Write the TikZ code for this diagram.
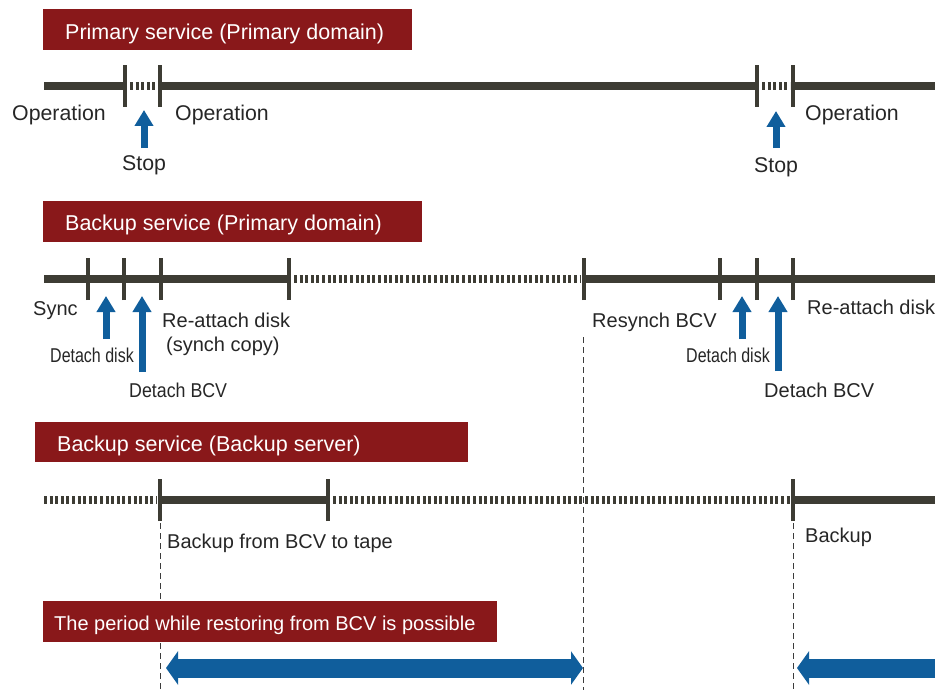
\documentclass[tikz,border=0pt]{standalone}
\usepackage{fontspec}
\setmainfont{Liberation Sans}
\usepackage{graphicx}
\usetikzlibrary{arrows.meta}
\definecolor{boxred}{RGB}{137,24,26}
\definecolor{tlgray}{RGB}{61,60,52}
\definecolor{arrblue}{RGB}{16,94,156}
\definecolor{txtgray}{RGB}{38,38,38}
\definecolor{dashgray}{RGB}{60,60,60}
\tikzset{
  tlsolid/.style={draw=tlgray, line width=7.5pt},
  tldot/.style={draw=tlgray, line width=7.5pt, dash pattern=on 3pt off 2.6pt},
  tltick/.style={draw=tlgray, line width=4pt},
  redbox/.style={fill=boxred, draw=none, inner sep=0pt, anchor=north west},
  titletxt/.style={text=white, inner sep=0pt, anchor=base west, font=\fontsize{21.5}{24}\selectfont},
  smalltitle/.style={text=white, inner sep=0pt, anchor=base west, font=\fontsize{20}{23}\selectfont},
  lbl/.style={text=txtgray, inner sep=0pt, anchor=base west, font=\fontsize{20}{23}\selectfont},
  lblbig/.style={text=txtgray, inner sep=0pt, anchor=base west, font=\fontsize{21.3}{24}\selectfont},
  uparrow/.style={draw=arrblue, line width=7pt, -{Triangle[width=18pt,length=16pt]}},
  bigarrow/.style={draw=arrblue, line width=19pt},
  guide/.style={draw=dashgray, line width=1pt, dash pattern=on 6pt off 4pt},
}
\begin{document}
\begin{tikzpicture}[x=1pt,y=-1pt]
\useasboundingbox (0,0) rectangle (942,690);

% ---------- Row 1: Primary service ----------
\node[redbox, minimum width=369pt, minimum height=41pt] (t1) at (43,9) {};
\node[titletxt] (t1txt) at (65,39.5) {Primary service (Primary domain)};

\coordinate (a0) at (44,86);
\coordinate (a1) at (125,86);
\coordinate (a2) at (160,86);
\coordinate (a3) at (757,86);
\coordinate (a4) at (793,86);
\coordinate (a5) at (935,86);
\coordinate (a1d) at (130,86); \coordinate (a2d) at (157,86);
\coordinate (a3d) at (762,86); \coordinate (a4d) at (790,86);
\draw[tlsolid] (a0) -- (a1);
\draw[tldot] (a1d) -- (a2d);
\draw[tlsolid] (a2) -- (a3);
\draw[tldot] (a3d) -- (a4d);
\draw[tlsolid] (a4) -- (a5);
\foreach \p in {a1,a2,a3,a4}{\draw[tltick] ([yshift=-21pt]\p) -- ([yshift=21pt]\p);}

\node[lblbig] (op1) at (12,121) {Operation};
\node[lblbig] (op2) at (175,121) {Operation};
\node[lblbig] (op3) at (805,121) {Operation};
\coordinate (s1b) at (144,148); \coordinate (s1t) at (144,110);
\coordinate (s2b) at (776,148); \coordinate (s2t) at (776,111);
\draw[uparrow] (s1b) -- (s1t);
\draw[uparrow] (s2b) -- (s2t);
\node[lblbig] (stop1) at (122,171) {Stop};
\node[lblbig] (stop2) at (754,172) {Stop};

% ---------- Row 2: Backup service (Primary domain) ----------
\node[redbox, minimum width=379pt, minimum height=41pt] (t2) at (43,201) {};
\node[titletxt] (t2txt) at (65,230.5) {Backup service (Primary domain)};

\coordinate (b0) at (44,279);
\coordinate (b1) at (88,279);
\coordinate (b2) at (124,279);
\coordinate (b3) at (161,279);
\coordinate (b4) at (289,279);
\coordinate (b4d) at (294,279); \coordinate (b5d) at (580,279);
\coordinate (b5) at (584,279);
\coordinate (b6) at (720,279);
\coordinate (b7) at (757,279);
\coordinate (b8) at (793,279);
\coordinate (b9) at (935,279);
\draw[tlsolid] (b0) -- (b4);
\draw[tldot] (b4d) -- (b5d);
\draw[tlsolid] (b5) -- (b9);
\foreach \p in {b1,b2,b3,b4,b5,b6,b7,b8}{\draw[tltick] ([yshift=-21pt]\p) -- ([yshift=21pt]\p);}

\coordinate (d1b) at (106,339); \coordinate (d1t) at (106,296);
\coordinate (d2b) at (142,372); \coordinate (d2t) at (142,296);
\coordinate (d3b) at (742,339); \coordinate (d3t) at (742,296);
\coordinate (d4b) at (778,371); \coordinate (d4t) at (778,296);
\draw[uparrow] (d1b) -- (d1t);
\draw[uparrow] (d2b) -- (d2t);
\draw[uparrow] (d3b) -- (d3t);
\draw[uparrow] (d4b) -- (d4t);

\node[lbl] (sync) at (33,315) {Sync};
\node[lbl] (dd1) at (50,362) {\scalebox{0.8}[1]{Detach disk}};
\node[lbl] (dbcv1) at (129,397) {\scalebox{0.89}[1]{Detach BCV}};
\node[lbl] (ra1) at (162,327) {Re-attach disk};
\node[lbl] (sc1) at (166,351) {(synch copy)};
\node[lbl] (rs) at (592,327) {Resynch BCV};
\node[lbl] (dd2) at (686,362) {\scalebox{0.8}[1]{Detach disk}};
\node[lbl] (dbcv2) at (764,397) {Detach BCV};
\node[lbl] (ra2) at (807,314) {Re-attach disk};

% ---------- Row 3: Backup service (Backup server) ----------
\node[redbox, minimum width=433pt, minimum height=40pt] (t3) at (35,422) {};
\node[titletxt] (t3txt) at (57,451) {Backup service (Backup server)};

\coordinate (c0) at (44,500);
\coordinate (c0e) at (157,500);
\coordinate (c1) at (160,500);
\coordinate (c2) at (328,500);
\coordinate (c2d) at (333,500); \coordinate (c3d) at (790,500);
\coordinate (c3) at (793,500);
\coordinate (c4) at (935,500);
\draw[tldot] (c0) -- (c0e);
\draw[tlsolid] (c1) -- (c2);
\draw[tldot] (c2d) -- (c3d);
\draw[tlsolid] (c3) -- (c4);
\foreach \p in {c1,c2,c3}{\draw[tltick] ([yshift=-21pt]\p) -- ([yshift=21pt]\p);}

\node[lbl] (bt) at (167,548) {Backup from BCV to tape};
\node[lbl] (bk) at (805,542) {Backup};

% ---------- guide lines (over the timelines, under the last box) ----------
\coordinate (g1t) at (583,337); \coordinate (g1b) at (583,690);
\coordinate (g2t) at (160,523); \coordinate (g2b) at (160,690);
\coordinate (g3t) at (793,523); \coordinate (g3b) at (793,690);
\draw[guide] (g1t) -- (g1b);
\draw[guide] (g2t) -- (g2b);
\draw[guide] (g3t) -- (g3b);

% ---------- Row 4: restore period ----------
\node[redbox, minimum width=454pt, minimum height=41pt] (t4) at (43,601) {};
\node[smalltitle] (t4txt) at (54,630) {The period while restoring from BCV is possible};

\coordinate (p1l) at (166,668); \coordinate (p1r) at (583,668);
\coordinate (p2l) at (797,668); \coordinate (p2r) at (935,668);
\draw[bigarrow, {Triangle[width=33pt,length=12pt]}-{Triangle[width=33pt,length=12pt]}] (p1l) -- (p1r);
\draw[bigarrow, -{Triangle[width=33pt,length=12pt]}] (p2r) -- (p2l);
\end{tikzpicture}
\end{document}
